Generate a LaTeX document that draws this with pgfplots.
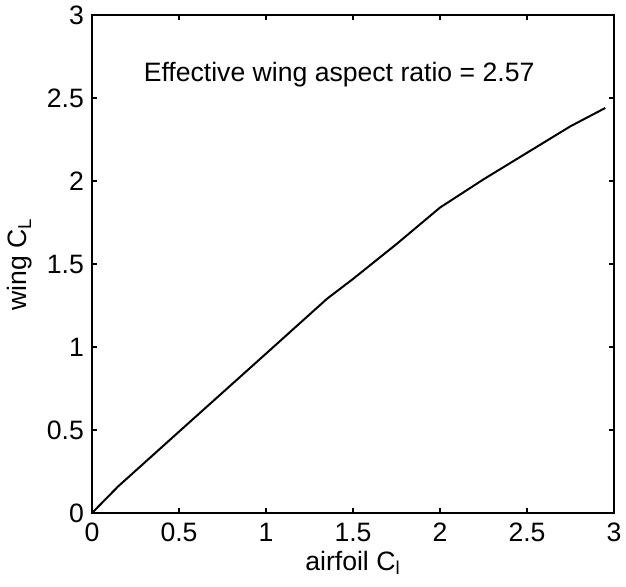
\documentclass[border=0pt]{standalone}
\usepackage{fontspec}
\setmainfont{Liberation Sans}
\usepackage{pgfplots}
\pgfplotsset{compat=1.18}
\begin{document}
\begin{tikzpicture}
\path[use as bounding box] (-46pt,-36.5pt) rectangle (267pt,256.5pt);
\begin{axis}[
  at={(0,0)}, anchor=south west,
  scale only axis,
  width=261pt, height=249pt,
  xmin=0, xmax=3, ymin=0, ymax=3,
  xtick={0,0.5,...,3}, ytick={0,0.5,...,3},
  xticklabels={0,0.5,1,1.5,2,2.5,3},
  yticklabels={0,0.5,1,1.5,2,2.5,3},
  tick align=inside,
  tick pos=both,
  major tick length=2.5pt,
  axis line style={line width=1pt},
  every tick/.style={black, line width=0.6pt},
  /pgf/number format/assume math mode=true,
  tick label style={font=\fontsize{13.3}{15}\selectfont},
  xticklabel style={yshift=-1.5pt},
  yticklabel style={xshift=-0.5pt},
  label style={font=\fontsize{13.3}{15}\selectfont},
  xlabel={airfoil C\textsubscript{l}},
  ylabel={wing C\textsubscript{L}},
  xlabel style={at={(axis description cs:0.5,0)}, anchor=center, yshift=-25pt},
  ylabel style={at={(axis description cs:0,0.5)}, anchor=center, yshift=36pt},
  clip=false,
]
\addplot[black, line width=1pt] coordinates {
(0,0) (0.15,0.16) (0.5,0.49) (1.0,0.96) (1.35,1.29) (1.5,1.41) (1.75,1.62) (2.0,1.84) (2.25,2.01) (2.5,2.17) (2.75,2.33) (2.95,2.44)
};
\node[font=\fontsize{13.3}{15}\selectfont] at (axis cs:1.42,2.64) {Effective wing aspect ratio = 2.57};
\end{axis}
\end{tikzpicture}
\end{document}
